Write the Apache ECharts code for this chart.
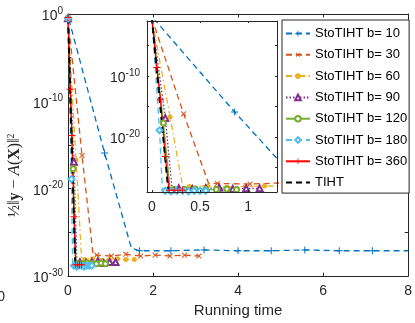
<!DOCTYPE html>
<html>
<head>
<meta charset="utf-8">
<script src="https://cdn.jsdelivr.net/npm/echarts@6/dist/echarts.min.js"></script>
<style>
  html, body { margin: 0; padding: 0; background: #fff; }
  #chart { width: 415px; height: 323px; }
</style>
</head>
<body>
<div id="chart"></div>
<script>
// running time vs log10 of the residual
const b10Time = [0.02, 0.86, 1.49, 1.68, 2.42, 3.2, 4.0, 4.78, 5.57, 6.38, 7.16, 8.0]
const b10Err = [-0.6, -15.9, -26.8, -27.1, -27.1, -27.0, -27.1, -27.1, -27.0, -27.1, -27.1, -27.1]
const b10Mark = [1, 1, 0, 1, 1, 1, 1, 1, 1, 1, 1, 0]

const b30Time = [0.0, 0.33, 0.59, 0.68, 1.02, 1.36, 1.71, 2.05, 2.4, 2.74, 3.08]
const b30Err = [-0.5, -16.2, -27.6, -27.6, -27.7, -27.5, -27.7, -27.6, -27.7, -27.6, -27.7]
const b30Mark = [1, 1, 0, 1, 1, 1, 1, 1, 1, 1, 1]

const b60Time = [0.0, 0.19, 0.32, 0.39, 0.58, 0.78, 0.97, 1.17, 1.36, 1.56]
const b60Err = [-0.5, -16.7, -28.1, -28.1, -28.0, -28.2, -28.1, -28.0, -28.1, -28.1]
const b60Mark = [1, 1, 0, 1, 1, 1, 1, 1, 1, 1]

const b90Time = [0.0, 0.14, 0.21, 0.28, 0.42, 0.56, 0.70, 0.84, 0.98, 1.12]
const b90Err = [-0.5, -16.9, -28.4, -28.4, -28.5, -28.4, -28.3, -28.5, -28.4, -28.4]
const b90Mark = [1, 1, 0, 1, 1, 1, 1, 1, 1, 1]

const b120Time = [0.0, 0.12, 0.19, 0.23, 0.34, 0.45, 0.56, 0.67, 0.78, 0.88]
const b120Err = [-0.5, -17.7, -28.6, -28.6, -28.6, -28.5, -28.6, -28.6, -28.5, -28.6]
const b120Mark = [1, 1, 0, 1, 1, 1, 1, 1, 1, 1]

const b180Time = [0.0, 0.08, 0.11, 0.14, 0.2, 0.26, 0.32, 0.38, 0.44, 0.5, 0.56]
const b180Err = [-0.5, -18.9, -28.8, -28.8, -28.9, -28.8, -28.8, -28.9, -28.8, -28.8, -28.8]
const b180Mark = [1, 1, 0, 1, 1, 1, 1, 1, 1, 1, 1]

const b360Time = [0.0, 0.05, 0.09, 0.14, 0.18, 0.23, 0.27, 0.32]
const b360Err = [-0.4, -8.6, -13.9, -23.2, -28.7, -28.7, -28.7, -28.7]
const b360Mark = [1, 1, 1, 1, 1, 1, 1, 1]

const tihtTime = [0.0, 0.17, 0.33]
const tihtErr = [-0.4, -28.6, -28.6]
const tihtMark = [0, 0, 0]

const seriesNames = ['StoTIHT b= 10', 'StoTIHT b= 30', 'StoTIHT b= 60', 'StoTIHT b= 90',
  'StoTIHT b= 120', 'StoTIHT b= 180', 'StoTIHT b= 360', 'TIHT']

const mainXTicks = [0, 2, 4, 6, 8]
const mainYTicks = [0, -5, -10, -15, -20, -25, -30]
const mainYLabels = [0, -10, -20, -30]
const insetXTicks = [0, 0.5, 1]
const insetYTicks = [-25, -20, -15, -10, -5]
const insetYLabels = [-20, -10]

const FONT = '"Liberation Sans", Arial, Helvetica, sans-serif'
const SERIF = 'Liberation Serif'
const AX = '#262626'
const PLUS = 'path://M4.3,0h1.4v4.3h4.3v1.4h-4.3v4.3h-1.4v-4.3h-4.3v-1.4h4.3z'

const looks = [
  { time: b10Time, err: b10Err, mark: b10Mark, color: '#0072BD', type: [6, 4], symbol: PLUS, size: 7, border: 0 },
  { time: b30Time, err: b30Err, mark: b30Mark, color: '#D95319', type: [6, 4], symbol: PLUS, size: 7, rotate: 45, border: 0 },
  { time: b60Time, err: b60Err, mark: b60Mark, color: '#EDB120', type: [6, 3, 1.5, 3], symbol: 'circle', size: 5, border: 0 },
  { time: b90Time, err: b90Err, mark: b90Mark, color: '#7E2F8E', type: [1.5, 2], symbol: 'emptyTriangle', size: 6, border: 1 },
  { time: b120Time, err: b120Err, mark: b120Mark, color: '#77AC30', type: 'solid', symbol: 'emptyCircle', size: 5, border: 1 },
  { time: b180Time, err: b180Err, mark: b180Mark, color: '#4DBEEE', type: [6, 4], symbol: 'emptyDiamond', size: 6, border: 1 },
  { time: b360Time, err: b360Err, mark: b360Mark, color: '#FF0000', type: 'solid', symbol: PLUS, size: 7, border: 0 },
  { time: tihtTime, err: tihtErr, mark: tihtMark, color: '#000000', type: [6, 4], symbol: 'none', size: 0, border: 0, width: 2 }
]

function buildSeries(axisIndex, z) {
  return looks.map((s, k) => ({
    name: seriesNames[k],
    type: 'line',
    xAxisIndex: axisIndex,
    yAxisIndex: axisIndex,
    z: z,
    clip: true,
    symbol: s.symbol,
    symbolSize: s.size,
    symbolRotate: s.rotate || 0,
    itemStyle: { color: s.color, borderWidth: s.border },
    lineStyle: { color: s.color, width: s.width || 1.3, type: s.type },
    emphasis: { disabled: true },
    data: s.time.map((t, i) => s.mark[i]
      ? { value: [t, s.err[i]] }
      : { value: [t, s.err[i]], symbol: 'none' })
  }))
}

const powLabel = v => '{b|10}{s|' + v + '}'
const powRich = {
  b: { fontSize: 14, fontFamily: FONT, color: AX, padding: [5, 0, 0, 0] },
  s: { fontSize: 10, fontFamily: FONT, color: AX, padding: [0, 0, 6, 0] }
}

function xAx(grid, pos, min, max, ticks, labels, tickLen, extra) {
  return Object.assign({
    type: 'value', gridIndex: grid, position: pos, min: min, max: max,
    axisLine: { show: true, onZero: false, lineStyle: { color: AX, width: 1 } },
    axisTick: { show: true, inside: true, length: tickLen, customValues: ticks, lineStyle: { color: AX } },
    axisLabel: labels ? {
      show: true, customValues: labels, margin: 8, fontSize: 14, fontFamily: FONT, color: AX
    } : { show: false },
    splitLine: { show: false }
  }, extra || {})
}

function yAx(grid, pos, min, max, ticks, labels, tickLen, margin) {
  return {
    type: 'value', gridIndex: grid, position: pos, min: min, max: max,
    axisLine: { show: true, onZero: false, lineStyle: { color: AX, width: 1 } },
    axisTick: { show: true, inside: true, length: tickLen, customValues: ticks, lineStyle: { color: AX } },
    axisLabel: labels ? {
      show: true, customValues: labels, margin: margin, formatter: powLabel, rich: powRich
    } : { show: false },
    splitLine: { show: false }
  }
}

const chart = echarts.init(document.getElementById('chart'), null, { renderer: 'canvas' })

chart.setOption({
  animation: false,
  backgroundColor: '#fff',
  textStyle: { fontFamily: FONT },
  grid: [
    { left: 68, top: 14, width: 343, height: 268, show: false },
    { left: 147, top: 21, width: 130, height: 171, show: true, backgroundColor: '#fff', borderWidth: 0, z: 3 }
  ],
  xAxis: [
    xAx(0, 'bottom', 0, 8, mainXTicks, mainXTicks, 3.4, {
      name: 'Running time', nameLocation: 'middle', nameGap: 25,
      nameTextStyle: { fontSize: 15, fontFamily: FONT, color: AX }
    }),
    xAx(0, 'top', 0, 8, mainXTicks, null, 3.4),
    xAx(1, 'bottom', -0.05, 1.3, insetXTicks, insetXTicks, 2, { z: 5 }),
    xAx(1, 'top', -0.05, 1.3, insetXTicks, null, 2, { z: 5 })
  ],
  yAxis: [
    yAx(0, 'left', -30, 0, mainYTicks, mainYLabels, 3.4, 5),
    yAx(0, 'right', -30, 0, mainYTicks, null, 3.4, 5),
    Object.assign(yAx(1, 'left', -29, -1, insetYTicks, insetYLabels, 2, 7), { z: 5 }),
    Object.assign(yAx(1, 'right', -29, -1, insetYTicks, null, 2, 7), { z: 5 })
  ],
  legend: {
    orient: 'vertical',
    left: 282, top: 20,
    padding: [7, 2, 4, 3],
    itemWidth: 24, itemHeight: 7, itemGap: 8.3,
    backgroundColor: '#fff',
    borderColor: AX, borderWidth: 1, borderRadius: 0,
    textStyle: { fontSize: 13, fontFamily: FONT, color: '#000' },
    data: seriesNames.map(n => n === 'TIHT' ? { name: n, itemStyle: { opacity: 0 } } : n),
    z: 10
  },
  graphic: [
    {
      type: 'text', x: 15, y: 217, rotation: Math.PI / 2,
      style: {
        text: '{n|½‖}{bf|y}{n| − }{it|A}{n|(}{bf|X}{n|)‖}{sc|2}',
        align: 'left', verticalAlign: 'middle',
        rich: {
          n: { fontSize: 16, fontFamily: SERIF, fill: AX },
          bf: { fontSize: 16, fontWeight: 'bold', fontFamily: SERIF, fill: AX },
          it: { fontSize: 17, fontStyle: 'italic', fontFamily: SERIF, fill: AX },
          sc: { fontSize: 10, fontFamily: SERIF, fill: AX, padding: [0, 0, 7, 0] }
        }
      }
    },
    {
      type: 'text', x: 5, y: 297,
      style: { text: '0', fontSize: 14, fontFamily: FONT, fill: AX, align: 'right', verticalAlign: 'middle' }
    }
  ],
  series: buildSeries(0, 2).concat(buildSeries(2, 4))
})
</script>
</body>
</html>
